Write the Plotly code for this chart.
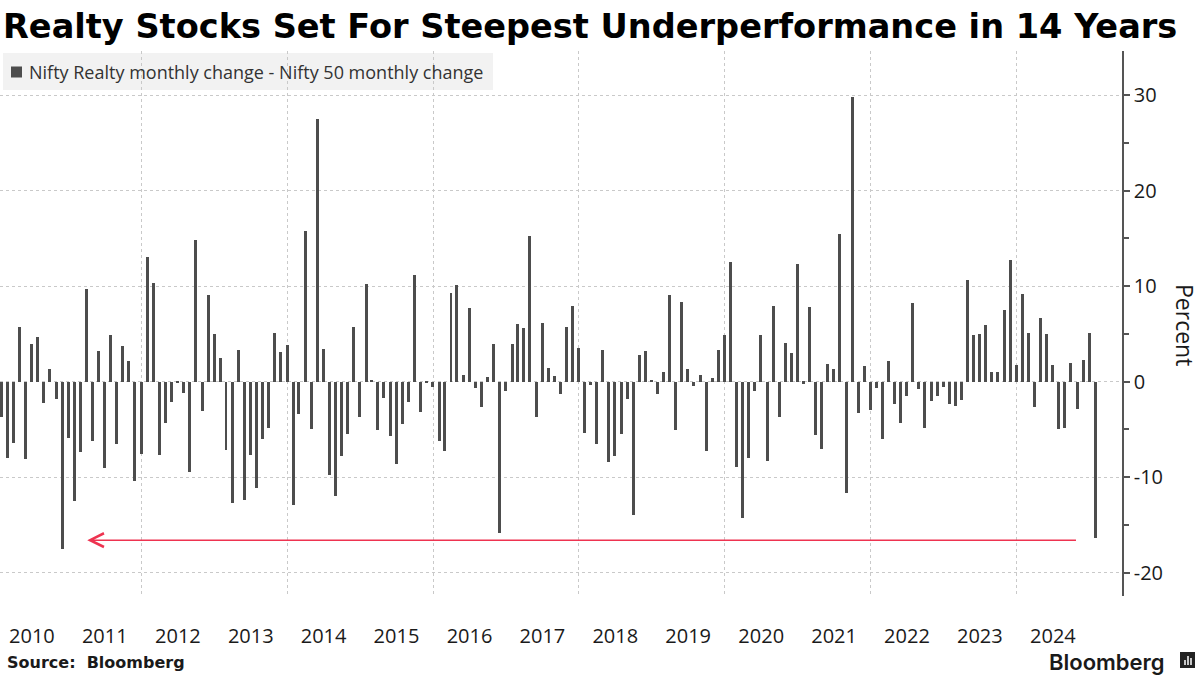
import plotly.graph_objects as go
import pandas as pd

# ---- data ----
series_name = "Nifty Realty monthly change - Nifty 50 monthly change"
start_month = "2010-01"
n_months = 181
values = [
    -3.7, -8.0, -6.4, 5.7, -8.1, 3.9, 4.7, -2.2, 1.3, -1.8,
    -17.5, -5.9, -12.5, -7.4, 9.7, -6.25, 3.2, -9.0, 4.9, -6.5,
    3.75, 2.15, -10.4, -7.6, 13.1, 10.3, -7.7, -4.3, -2.1, -0.1,
    -1.15, -9.5, 14.8, -3.1, 9.1, 5.0, 2.5, -7.2, -12.7, 3.3,
    -12.4, -7.7, -11.1, -6.0, -4.8, 5.1, 3.1, 3.85, -12.9, -3.4,
    15.8, -5.0, 27.5, 3.4, -9.8, -12.0, -7.8, -5.5, 5.7, -3.65,
    10.2, 0.1, -5.1, -1.7, -5.7, -8.6, -4.4, -2.1, 11.2, -3.2,
    -0.1, -0.6, -6.25, -7.3, 9.3, 10.1, 0.7, 7.7, -0.7, -2.6,
    0.5, 3.9, -15.8, -1.0, 3.9, 6.0, 5.6, 15.3, -3.75, 6.1,
    1.4, 0.6, -1.25, 5.7, 7.9, 3.5, -5.4, -0.3, -6.5, 3.3,
    -8.4, -7.8, -5.5, -1.8, -14.0, 2.8, 3.2, 0.2, -1.3, 1.0,
    9.1, -5.1, 8.3, 1.3, -0.4, 0.7, -7.3, 0.4, 3.3, 4.9,
    12.5, -8.9, -14.3, -8.0, -1.0, 4.9, -8.3, 7.9, -3.65, 4.1,
    3.0, 12.3, -0.2, 7.8, -5.6, -7.0, 1.9, 1.3, 15.5, -11.7,
    29.8, -3.3, 1.6, -2.95, -0.7, -6.0, 2.15, -2.3, -4.3, -1.55,
    8.2, -0.8, -4.8, -2.0, -1.55, -0.6, -2.3, -2.5, -1.9, 10.7,
    4.9, 5.0, 5.9, 1.0, 1.0, 7.5, 12.7, 1.75, 9.2, 5.1,
    -2.7, 6.7, 5.0, 1.75, -5.0, -4.9, 2.0, -2.9, 2.3, 5.1,
    -16.4,
]
year_labels = ["2010", "2011", "2012", "2013", "2014", "2015", "2016", "2017",
               "2018", "2019", "2020", "2021", "2022", "2023", "2024"]
y_tick_values = [-20, -10, 0, 10, 20, 30]
y_tick_text = ["-20", "-10", "0", "10", "20", "30"]
arrow_from = ("2024-11-02", -16.6)
arrow_to = ("2011-04-05", -16.6)

# month-end dates
dates = pd.date_range(pd.Timestamp(start_month + "-01") + pd.offsets.MonthBegin(1),
                      periods=n_months, freq="MS") - pd.Timedelta(days=1)
year_mid = [f"{y}-07-02" for y in year_labels]

# ---- layout geometry ----
W, H = 1200, 675
ML, MR, MT, MB = 0, 78, 51, 79
PW, PH = W - ML - MR, H - MT - MB


def px(x):
    return (x - ML) / PW


def py(y):
    return (H - MB - y) / PH


BAR = "#4d4d4d"
GRID = "#c9c9c9"
TXT = "#1a1a1a"

fig = go.Figure()
fig.add_trace(go.Bar(
    x=dates, y=values, name=series_name,
    marker=dict(color=BAR, line=dict(width=0)),
    width=15 * 86400000,
    showlegend=False,
))

shapes = [
    # legend box (under grid lines)
    dict(type="rect", xref="paper", yref="paper", layer="below",
         x0=px(3), x1=px(493), y0=py(90), y1=py(53),
         fillcolor="#f2f2f2", line=dict(width=0)),
    # legend swatch
    dict(type="rect", xref="paper", yref="paper",
         x0=px(11), x1=px(22), y0=py(77.5), y1=py(66.5),
         fillcolor=BAR, line=dict(width=0)),
    # Bloomberg icon
    dict(type="rect", xref="paper", yref="paper",
         x0=px(1180), x1=px(1195), y0=py(668), y1=py(652),
         fillcolor="#222222", line=dict(width=0)),
    dict(type="line", xref="paper", yref="paper",
         x0=px(1185), x1=px(1185), y0=py(665), y1=py(660),
         line=dict(color="white", width=1.5)),
    dict(type="line", xref="paper", yref="paper",
         x0=px(1188), x1=px(1188), y0=py(665), y1=py(656),
         line=dict(color="white", width=1.5)),
    dict(type="line", xref="paper", yref="paper",
         x0=px(1191), x1=px(1191), y0=py(665), y1=py(658),
         line=dict(color="white", width=1.5)),
]

annotations = [
    dict(text=series_name, xref="paper", yref="paper", x=px(27), y=py(72),
         xanchor="left", yanchor="middle", showarrow=False,
         font=dict(family="Open Sans", size=18, color="#333333")),
    dict(text="Percent", xref="paper", yref="paper", x=px(1185), y=py(325),
         xanchor="center", yanchor="middle", showarrow=False, textangle=90,
         font=dict(family="Open Sans", size=23, color=TXT)),
    dict(text="<b>Source:  Bloomberg</b>", xref="paper", yref="paper",
         x=px(5), y=py(662), xanchor="left", yanchor="middle", showarrow=False,
         font=dict(family="DejaVu Sans", size=16, color=TXT)),
    dict(text="Bloomberg", xref="paper", yref="paper",
         x=px(1167), y=py(662), xanchor="right", yanchor="middle", showarrow=False,
         font=dict(family="Inter", size=22, color=TXT, weight=600)),
    # red arrow
    dict(x=arrow_to[0], y=arrow_to[1], ax=arrow_from[0], ay=arrow_from[1],
         xref="x", yref="y", axref="x", ayref="y", text="", showarrow=True,
         arrowhead=5, arrowsize=1.8, arrowwidth=1.5, arrowcolor="#ee3350",
         standoff=0, startstandoff=0),
]

fig.update_layout(
    width=W, height=H,
    margin=dict(l=ML, r=MR, t=MT, b=MB, pad=0),
    paper_bgcolor="white", plot_bgcolor="white",
    title=dict(text="<b>Realty Stocks Set For Steepest Underperformance in 14 Years</b>",
               x=3 / W, xref="container", xanchor="left",
               y=1 - 26 / H, yref="container", yanchor="middle",
               font=dict(family="DejaVu Sans", size=33.6, color="#000000")),
    shapes=shapes,
    annotations=annotations,
    bargap=0,
    showlegend=False,
)

fig.update_xaxes(
    type="date",
    range=["2010-01-23", "2025-06-13"],
    tickmode="array", tickvals=year_mid, ticktext=year_labels,
    ticks="outside", ticklen=22, tickcolor="rgba(0,0,0,0)",
    tickfont=dict(family="Open Sans", size=20, color=TXT),
    showgrid=False, zeroline=False, showline=False,
    minor=dict(tickmode="linear", tick0="2012-01-01", dtick="M24",
               showgrid=True, gridcolor=GRID, griddash="dot", gridwidth=1,
               ticks=""),
)

fig.update_yaxes(
    side="right",
    range=[-22.45, 34.64],
    tickmode="array", tickvals=y_tick_values, ticktext=y_tick_text,
    ticks="outside", ticklen=6, tickcolor="#555555", tickwidth=1.5,
    tickfont=dict(family="Open Sans", size=20, color=TXT),
    showgrid=True, gridcolor=GRID, griddash="dot", gridwidth=1,
    zeroline=False,
    showline=True, linecolor="#555555", linewidth=1.5,
    minor=dict(tickmode="linear", tick0=-25, dtick=10, ticks="outside",
               ticklen=5, tickcolor="#555555", showgrid=False),
)

fig.write_html("out.html",
               config={"displayModeBar": False},
               post_script="document.body.style.margin='0px';document.body.style.padding='0px';")
